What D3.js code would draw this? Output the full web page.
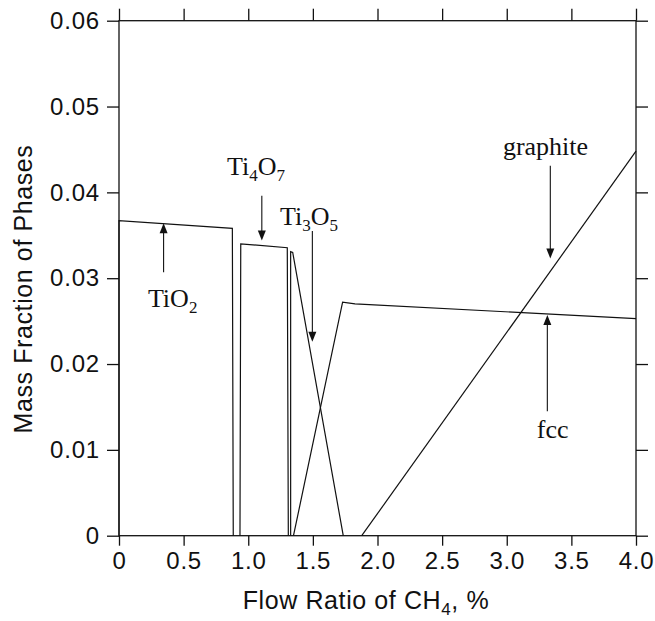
<!DOCTYPE html>
<html>
<head>
<meta charset="utf-8">
<script src="https://cdn.jsdelivr.net/npm/d3@7"></script>
<style>
  html, body { margin: 0; padding: 0; background: #fff; }
  svg { display: block; }
  .tick text { font-family: "Liberation Sans", Arial, sans-serif; font-size: 24px; letter-spacing: 0.8px; fill: #111; }
  .lbl { font-family: "Liberation Serif", "Times New Roman", serif; font-size: 26px; fill: #111; }
  .ttl { font-family: "Liberation Sans", Arial, sans-serif; font-size: 25px; letter-spacing: 0.6px; fill: #111; }
</style>
</head>
<body>
<svg id="chart" width="655" height="621"></svg>
<script>
// ---- data ----
const xTicks = [0, 0.5, 1.0, 1.5, 2.0, 2.5, 3.0, 3.5, 4.0];
const xTickLabels = ["0", "0.5", "1.0", "1.5", "2.0", "2.5", "3.0", "3.5", "4.0"];
const yTicks = [0, 0.01, 0.02, 0.03, 0.04, 0.05, 0.06];
const yTickLabels = ["0", "0.01", "0.02", "0.03", "0.04", "0.05", "0.06"];

const tio2X = [0, 0, 0.877, 0.884];
const tio2Y = [0, 0.0367, 0.0358, 0];
const ti4o7X = [0.936, 0.942, 1.302, 1.31];
const ti4o7Y = [0, 0.0340, 0.03355, 0];
const ti3o5X = [1.328, 1.328, 1.344, 1.735];
const ti3o5Y = [0, 0.0331, 0.0330, 0];
const fccX = [1.35, 1.73, 1.826, 4.0];
const fccY = [0, 0.0272, 0.0270, 0.0253];
const graphiteX = [1.878, 4.0];
const graphiteY = [0, 0.0448];

// annotations: label parts, text anchor point (data), arrow from/to (data)
const annotations = [
  { parts: [["Ti",0],["O",0],["2",1]], tx: 0.415, ty: 0.0266, ax: 0.345, ay1: 0.0307, ay2: 0.0364 },
  { parts: [["Ti",0],["4",1],["O",0],["7",1]], tx: 1.06, ty: 0.0420, ax: 1.105, ay1: 0.0396, ay2: 0.0344 },
  { parts: [["Ti",0],["3",1],["O",0],["5",1]], tx: 1.47, ty: 0.0362, ax: 1.496, ay1: 0.0355, ay2: 0.0226 },
  { parts: [["graphite",0]], tx: 3.3, ty: 0.0444, ax: 3.337, ay1: 0.0431, ay2: 0.0323 },
  { parts: [["fcc",0]], tx: 3.355, ty: 0.0114, ax: 3.314, ay1: 0.0145, ay2: 0.0257 }
];

// ---- layout ----
const svg = d3.select("#chart");
const xS = d3.scaleLinear().domain([0, 4]).range([119, 636]);
const yS = d3.scaleLinear().domain([0, 0.06]).range([535.7, 20.7]);
const ink = "#111";

const fmtX = (d, i) => xTickLabels[i];
const fmtY = (d, i) => yTickLabels[i];
const gBottom = svg.append("g").attr("transform", `translate(0,${yS(0)})`)
  .call(d3.axisBottom(xS).tickValues(xTicks).tickFormat(fmtX).tickSize(10).tickPadding(6));
const gTop = svg.append("g").attr("transform", `translate(0,${yS(0.06)})`)
  .call(d3.axisTop(xS).tickValues(xTicks).tickFormat("").tickSize(12));
const gLeft = svg.append("g").attr("transform", `translate(${xS(0)},0)`)
  .call(d3.axisLeft(yS).tickValues(yTicks).tickFormat(fmtY).tickSize(12).tickPadding(7));
const gRight = svg.append("g").attr("transform", `translate(${xS(4)},0)`)
  .call(d3.axisRight(yS).tickValues(yTicks).tickFormat("").tickSize(12));
[gBottom, gTop, gLeft, gRight].forEach(g => {
  g.select("path.domain").remove();
  g.selectAll(".tick line").attr("stroke", ink).attr("stroke-width", 1.3);
});

// frame
svg.append("rect").attr("x", xS(0)).attr("y", yS(0.06))
  .attr("width", xS(4) - xS(0)).attr("height", yS(0) - yS(0.06))
  .attr("fill", "none").attr("stroke", ink).attr("stroke-width", 1.3);

// series
const line = d3.line().x(d => xS(d[0])).y(d => yS(d[1]));
const series = [
  [tio2X, tio2Y], [ti4o7X, ti4o7Y], [ti3o5X, ti3o5Y], [fccX, fccY], [graphiteX, graphiteY]
];
series.forEach(([xs, ys]) => {
  svg.append("path").datum(xs.map((v, i) => [v, ys[i]]))
    .attr("d", line).attr("fill", "none").attr("stroke", ink)
    .attr("stroke-width", 1.2).attr("stroke-linejoin", "miter");
});

// annotations
annotations.forEach(a => {
  const t = svg.append("text").attr("class", "lbl").attr("x", xS(a.tx)).attr("y", yS(a.ty))
    .attr("text-anchor", "middle");
  a.parts.forEach(([s, sub], i) => {
    const ts = t.append("tspan").text(s);
    if (sub) ts.attr("font-size", "17px").attr("dy", "6");
    else if (i > 0 && a.parts[i - 1][1]) ts.attr("dy", "-6");
  });
  const ax = xS(a.ax), y1 = yS(a.ay1), y2 = yS(a.ay2);
  const dir = y2 > y1 ? 1 : -1;
  svg.append("line").attr("x1", ax).attr("x2", ax).attr("y1", y1).attr("y2", y2 - dir * 8)
    .attr("stroke", ink).attr("stroke-width", 1.1);
  svg.append("path")
    .attr("d", `M${ax},${y2} L${ax - 4},${y2 - dir * 10} L${ax + 4},${y2 - dir * 10} Z`)
    .attr("fill", ink);
});

// axis titles
const xt = svg.append("text").attr("class", "ttl").attr("x", 366).attr("y", 609).attr("text-anchor", "middle");
xt.append("tspan").text("Flow Ratio of CH");
xt.append("tspan").text("4").attr("font-size", "17px").attr("dy", "6");
xt.append("tspan").text(", %").attr("dy", "-6");

svg.append("text").attr("class", "ttl")
  .attr("transform", `translate(32,289) rotate(-90)`)
  .attr("text-anchor", "middle").text("Mass Fraction of Phases");
</script>
</body>
</html>
